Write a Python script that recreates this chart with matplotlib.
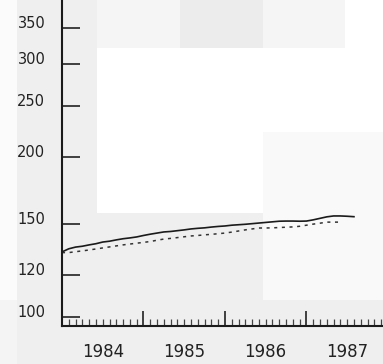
import matplotlib
matplotlib.use("Agg")
import matplotlib.pyplot as plt
from matplotlib.patches import Rectangle
from matplotlib.ticker import FixedLocator, NullFormatter, NullLocator

# monthly index values, Jan 1984 onwards
solid_vals = [132.7, 134.5, 135.5, 136.0, 136.8, 137.5, 138.5, 139.0, 139.8, 140.5,
              141.0, 141.6, 142.5, 143.3, 144.0, 144.7, 145.0, 145.5, 146.0, 146.6,
              147.0, 147.3, 147.8, 148.2, 148.5, 149.0, 149.3, 149.6, 150.0, 150.4,
              150.8, 151.2, 151.6, 151.7, 151.7, 151.6, 151.7, 152.5, 153.5, 154.5,
              155.1, 155.1, 154.9, 154.6]
dashed_vals = [132.3, 132.3, 132.8, 133.3, 133.8, 134.4, 135.0, 135.6, 136.2, 136.8,
               137.3, 137.8, 138.3, 138.8, 139.6, 140.3, 140.7, 141.2, 141.7, 142.2,
               142.5, 142.9, 143.2, 143.6, 144.0, 144.6, 145.3, 146.0, 146.6, 147.2,
               147.2, 147.3, 147.5, 147.7, 147.9, 148.3, 149.0, 149.7, 150.3, 151.0,
               151.0, 151.0]
start_year = 1984
years = [1984, 1985, 1986, 1987]
y_ticks = [100, 120, 150, 200, 250, 300, 350]

solid_x = [start_year + m / 12 for m in range(len(solid_vals))]
dashed_x = [start_year + m / 12 for m in range(len(dashed_vals))]

W, H = 383, 364
fig = plt.figure(figsize=(W / 100, H / 100), dpi=100, facecolor="#efefef")


# scanned-paper background blocks (pixel coords, y from top)
def patch(x0, y0, x1, y1, color):
    fig.patches.append(Rectangle((x0 / W, 1 - y1 / H), (x1 - x0) / W, (y1 - y0) / H,
                                 transform=fig.transFigure, color=color, zorder=-10, lw=0))


patch(0, 0, 17, 300, "#fbfbfb")
patch(0, 300, 17, 364, "#f4f4f4")
patch(97, 0, 345, 48, "#f5f5f5")
patch(180, 0, 263, 48, "#ececec")
patch(345, 0, 383, 48, "#ffffff")
patch(97, 48, 383, 213, "#ffffff")
patch(263, 132, 383, 300, "#f9f9f9")

ax = fig.add_axes([62 / W, 1 - 326 / H, 1 - 62 / W, 326 / H])
ax.set_facecolor("none")

ax.plot(solid_x, solid_vals, color="#1a1a1a", lw=1.2)
ax.plot(dashed_x, dashed_vals, color="#333333", lw=1.1, linestyle=(0, (2, 3)))

ax.set_yscale("log")
ax.set_ylim(96.2, 396)
ax.set_xlim(1984.0, 1987.94)

ax.yaxis.set_major_locator(FixedLocator(y_ticks))
ax.yaxis.set_minor_locator(NullLocator())
ax.set_yticklabels([str(v) for v in y_ticks], fontsize=10.5, va="baseline", color="#222222")
ax.tick_params(axis="y", direction="in", length=13, width=1.2, pad=12, color="#222222")

ax.xaxis.set_major_locator(FixedLocator(years + [1988]))
ax.xaxis.set_major_formatter(NullFormatter())
ax.xaxis.set_minor_locator(FixedLocator([start_year + m / 12 for m in range(48)]))
ax.tick_params(axis="x", which="major", direction="in", length=11, width=1.2, color="#222222")
ax.tick_params(axis="x", which="minor", direction="in", length=5, width=0.9, color="#444444")
for yr in years:
    ax.text(yr + 0.5, -0.08, str(yr), transform=ax.get_xaxis_transform(),
            ha="center", va="center", fontsize=12, color="#222222")

for side in ["top", "right"]:
    ax.spines[side].set_visible(False)
for side in ["left", "bottom"]:
    ax.spines[side].set_linewidth(1.5)
    ax.spines[side].set_color("#1a1a1a")

fig.savefig("out.png", dpi=100, facecolor=fig.get_facecolor())
